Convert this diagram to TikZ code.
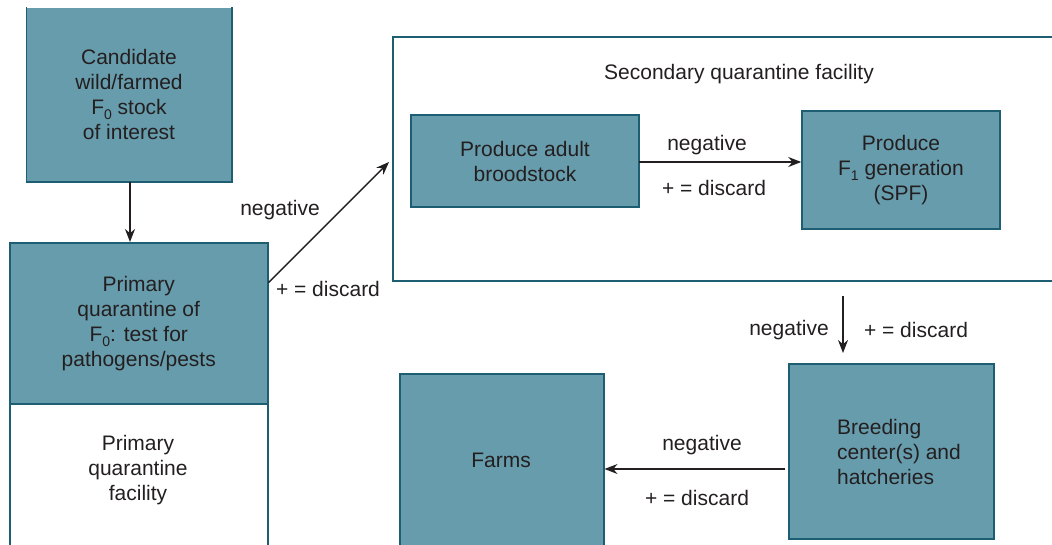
\documentclass[tikz,border=0pt]{standalone}
\usepackage{fontspec}
\setmainfont{Liberation Sans}
\usetikzlibrary{arrows.meta,calc}
\definecolor{boxfill}{HTML}{679CAC}
\definecolor{boxline}{HTML}{1D5E72}
\definecolor{txt}{HTML}{231F20}
\newcommand{\lowsub}[1]{\raisebox{-5pt}{\fontsize{14}{14}\selectfont #1}}
\begin{document}
\begin{tikzpicture}[x=1pt,y=-1pt,
  font=\fontsize{21}{25}\selectfont, text=txt,
  box/.style={fill=boxfill, draw=boxline, line width=1.5pt, inner sep=0pt, align=center},
  frame/.style={draw=boxline, line width=1.5pt, inner sep=0pt},
  arr/.style={-{Stealth[length=13pt,width=10pt]}, line width=1.4pt, draw=txt},
  lbl/.style={inner sep=0pt, align=center}]
\useasboundingbox (0,0) rectangle (1052,544);
\clip (0,0) rectangle (1052,544);

% candidate stock
\node[box, draw=none, minimum width=204pt, minimum height=173pt] (cand) at (129,94.5)
  {Candidate\\wild/farmed\\F\lowsub{0} stock\\of interest};
\draw[boxline, line width=1.5pt] (cand.north west) -- (cand.south west) -- (cand.south east) -- (cand.north east);

% primary quarantine facility
\node[frame, minimum width=258pt, minimum height=330pt, anchor=north west] (primfac) at (9,242) {};
\node[box, minimum width=258pt, minimum height=161pt, anchor=north west] (prim) at (9,242)
  {Primary\\quarantine of\\F\lowsub{0}: test for\\pathogens/pests};
\node[lbl] (primfact) at (138,470) {Primary\\quarantine\\facility};

\draw[arr] (cand.south -| 130,0) -- (prim.north -| 130,0);

% secondary quarantine facility
\node[draw=boxline, line width=2pt, inner sep=0pt, minimum width=690pt, minimum height=244pt, anchor=north west] (sec) at (392,36) {};
\node[lbl] (sect) at (739,74) {Secondary quarantine facility};

\node[box, minimum width=228pt, minimum height=92pt] (adult) at (525,161) {Produce adult\\broodstock};
\node[box, minimum width=198pt, minimum height=118pt] (f1) at (901,170) {Produce\\F\lowsub{1} generation\\(SPF)};
\coordinate (as) at (639,162);
\draw[arr] (as) -- (as -| f1.west);
\node[lbl] (l2n) at (707,145) {negative};
\node[lbl] (l2d) at (714,188) {+ = discard};

% primary -> secondary
\coordinate (dstart) at ($(prim.north east)!0.25!(prim.south east)$);
\coordinate (dend) at (389,162);
\draw[arr] (dstart) -- (dend);
\node[lbl] (l1n) at (280,210) {negative};
\node[lbl] (l1d) at (328,289) {+ = discard};

% secondary -> breeding
\coordinate (vs) at (843,296);
\coordinate (ve) at (843,353);
\draw[arr] (vs) -- (ve);
\node[lbl] (l3n) at (789,330) {negative};
\node[lbl] (l3d) at (916,330) {+ = discard};

% breeding centers
\node[box, minimum width=205pt, minimum height=175pt] (breed) at (891.5,451.5) {};
\node[lbl, align=left] (breedt) at (899,452) {Breeding\\center(s) and\\hatcheries};

% farms
\node[box, minimum width=204pt, minimum height=200pt, anchor=north west] (farms) at (399,373) {};
\node[lbl] (farmst) at (501,460) {Farms};

\coordinate (bs) at (785,469);
\draw[arr] (bs) -- (bs -| farms.east);
\node[lbl] (l4n) at (702,445) {negative};
\node[lbl] (l4d) at (697,498) {+ = discard};
\end{tikzpicture}
\end{document}
